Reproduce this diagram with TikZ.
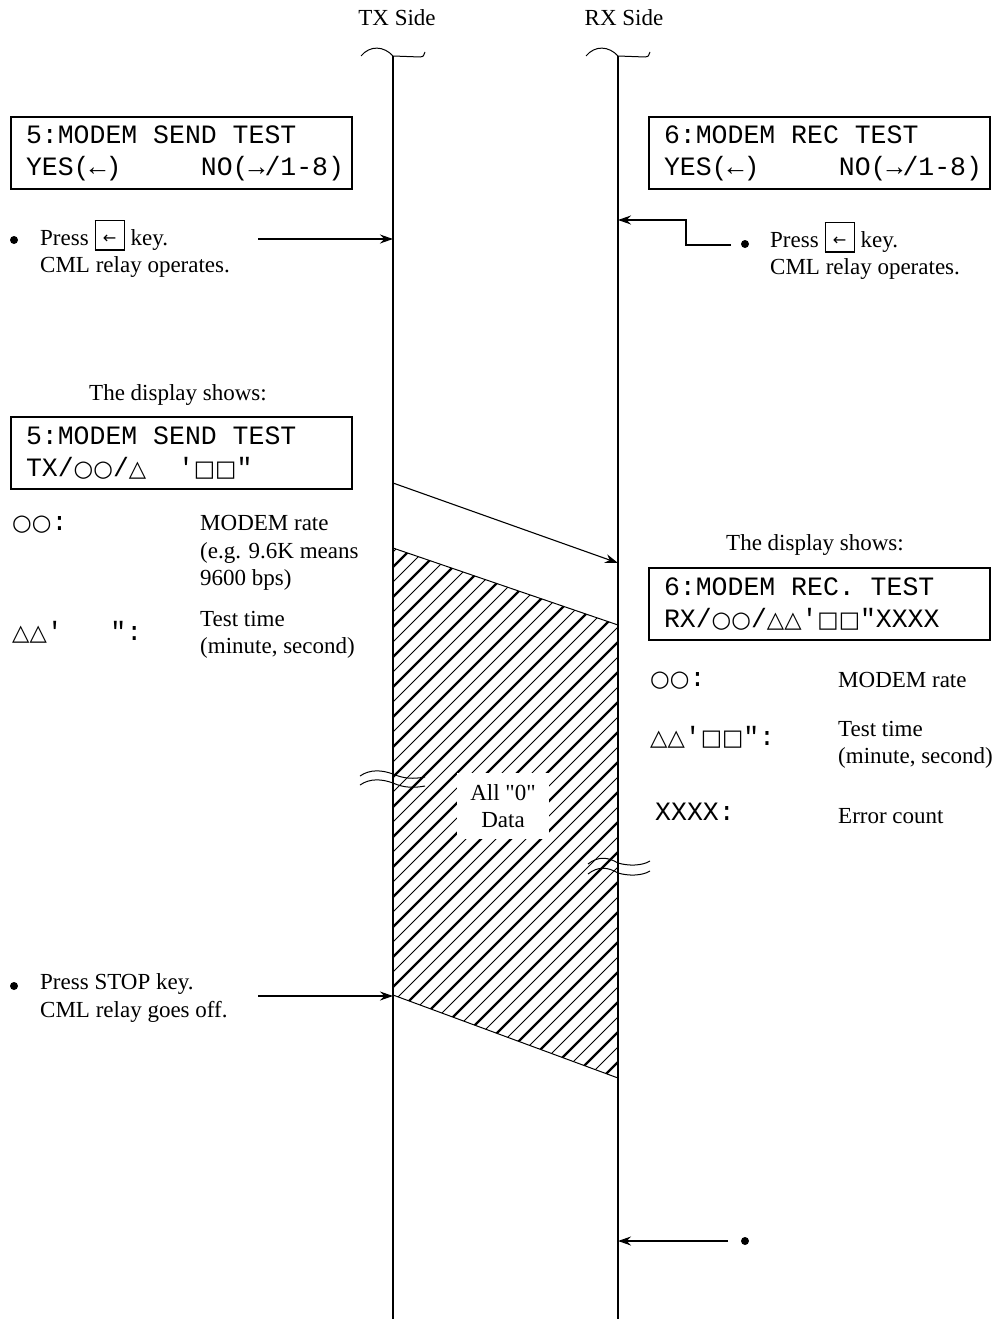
\documentclass[tikz,border=0pt]{standalone}
\usepackage{fontspec}
\setmainfont{Liberation Serif}[Ligatures=TeXOff]
\setmonofont{Liberation Mono}
\newfontfamily\symfont[Scale=0.85]{DejaVu Sans}
\usetikzlibrary{arrows.meta,positioning}
\newcommand{\keybox}[1]{\fbox{\makebox[22pt]{\rule[-1pt]{0pt}{22pt}\raisebox{1.5pt}{\fontsize{19}{19}\symfont #1}}}}
\newcommand{\gap}{\hphantom{0}}
\setlength{\fboxsep}{3pt}
\setlength{\fboxrule}{1.2pt}

\begin{document}
\begin{tikzpicture}[x=1pt,y=-1pt,
  every node/.style={font=\fontsize{23}{27.5}\selectfont,inner sep=0pt},
  lcd/.style={draw,line width=1.3pt,minimum width=341pt,minimum height=72pt,text width=311pt,inner xsep=15pt,align=left,font=\ttfamily\fontsize{26.5}{32}\selectfont},
  sym/.style={anchor=west,font=\ttfamily\fontsize{26.5}{32}\selectfont},
  note/.style={anchor=west,align=left},
  arr/.style={-{Stealth[length=13pt,width=9pt]},line width=1.1pt},
  life/.style={line width=1.5pt},
  brk/.style={line width=1pt},
  dot/.style={circle,fill,minimum size=8pt}]
  \useasboundingbox (0,0) rectangle (1001,1319);
  \coordinate (txtop) at (393,56); \coordinate (txbot) at (393,1319);
  \coordinate (rxtop) at (618,56); \coordinate (rxbot) at (618,1319);
  \coordinate (txdata) at (393,548); \coordinate (rxdata) at (618,625);
  \coordinate (rxend) at (618,1078); \coordinate (txend) at (393,995);
  \begin{scope}
    \clip (txdata) -- (rxdata) -- (rxend) -- (txend) -- cycle;
    \foreach \c in {930,960,...,1710} \draw[line width=2.3pt] (380,{\c-380}) -- (630,{\c-630});
    \foreach \c in {945,975,...,1710} \draw[line width=0.9pt] (380,{\c-380}) -- (630,{\c-630});
  \end{scope}
  \draw[line width=1pt] (txdata) -- (rxdata) (txend) -- (rxend);
  \node[fill=white,inner xsep=13pt,inner ysep=11pt,align=center] (alldata) at (503,806) {All "0"\\Data};
  \draw[life] (txtop) -- (txbot); \draw[life] (rxtop) -- (rxbot);
  \node (txside) at (397,18) {TX Side};
  \node (rxside) at (624,18) {RX Side};
  \draw[brk] (361,56) .. controls (370,45) and (384,46) .. (393,56) -- (420,57) .. controls (423,57) .. (425,52);
  \draw[brk] (586,56) .. controls (595,45) and (609,46) .. (618,56) -- (645,57) .. controls (648,57) .. (650,52);
  \draw[brk] (360,776) .. controls (370,769) and (382,770) .. (393,774) .. controls (404,779) and (414,779) .. (425,777);
  \draw[brk] (360,785) .. controls (370,778) and (382,779) .. (393,783) .. controls (404,788) and (414,788) .. (425,786);
  \draw[brk] (588,864) .. controls (598,856) and (608,857) .. (618,863) .. controls (628,866) and (642,866) .. (650,861);
  \draw[brk] (588,874) .. controls (598,866) and (608,867) .. (618,873) .. controls (628,876) and (642,876) .. (650,871);

  \node[lcd] (sendbox) at (181.5,153) {5:MODEM\gap SEND\gap TEST\\YES(←)\gap\gap\gap\gap\gap NO(→/1-8)};
  \node[lcd] (recbox) at (819.5,153) {6:MODEM\gap REC\gap TEST\\YES(←)\gap\gap\gap\gap\gap NO(→/1-8)};
  \node[dot] (sdot1) at (14,240) {};
  \node[note] (spress) at (40,249) {Press \keybox{←} key.\\CML relay operates.};
  \coordinate (sfrom1) at (258,239); \coordinate (txkey) at (393,239);
  \draw[arr] (sfrom1) -- (txkey);
  \node[dot] (rdot1) at (745,244) {};
  \node[note] (rpress) at (770,251) {Press \keybox{←} key.\\CML relay operates.};
  \coordinate (rfrom1) at (731,245); \coordinate (rxkey) at (618,220);
  \draw[arr] (rfrom1) -- ++(-45,0) |- (rxkey);

  \node (sshow) at (178,395) {The display shows:};
  \node[lcd] (sendlcd) at (181.5,453) {5:MODEM\gap SEND\gap TEST\\TX/{\symfont ○○}/{\symfont △}\gap\gap'{\symfont □□}"};
  \coordinate (txsig) at (393,483); \coordinate (rxsig) at (618,563);
  \draw[arr] (txsig) -- (rxsig);
  \node[sym] (skey1) at (12,525) {{\symfont ○○}:};
  \node[note] (sval1) at (200,553) {MODEM rate\\(e.g. 9.6K means\\9600 bps)};
  \node[sym] (skey2) at (12,632) {{\symfont △△}'\gap\gap\gap":};
  \node[note] (sval2) at (200,635) {Test time\\(minute, second)};

  \node (rshow) at (815,545) {The display shows:};
  \node[lcd] (reclcd) at (819.5,604) {6:MODEM\gap REC.\gap TEST\\RX/{\symfont ○○}/{\symfont △△}'{\symfont □□}"XXXX};
  \node[sym] (rkey1) at (650,681) {{\symfont ○○}:};
  \node[note] (rval1) at (838,680) {MODEM rate};
  \node[sym] (rkey2) at (650,737) {{\symfont △△}'{\symfont □□}":};
  \node[note] (rval2) at (838,745) {Test time\\(minute, second)};
  \node[sym] (rkey3) at (655,812) {XXXX:};
  \node[note] (rval3) at (838,816) {Error count};

  \node[dot] (sdot2) at (14,986) {};
  \node[note] (sstop) at (40,998) {Press STOP key.\\CML relay goes off.};
  \coordinate (sfrom2) at (258,996); \coordinate (txstop) at (393,996);
  \draw[arr] (sfrom2) -- (txstop);
  \node[dot] (rdot2) at (745,1241) {};
  \coordinate (rfrom2) at (728,1241); \coordinate (rxstop) at (618,1241);
  \draw[arr] (rfrom2) -- (rxstop);
\end{tikzpicture}
\end{document}
